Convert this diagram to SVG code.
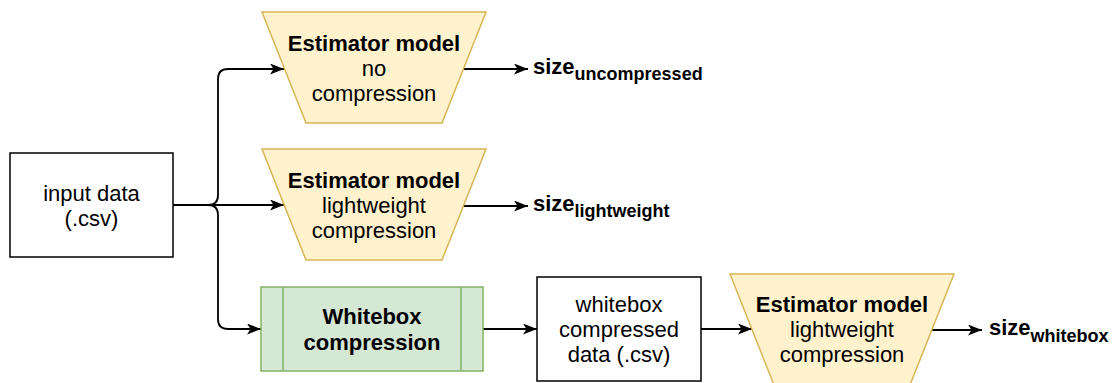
<svg xmlns="http://www.w3.org/2000/svg" width="1113" height="383" viewBox="0 0 1113 383">
<defs>
<marker id="arr" markerUnits="userSpaceOnUse" viewBox="0 0 14 11" refX="14" refY="5.5" markerWidth="14" markerHeight="11" orient="auto">
<path d="M0,0 L14,5.5 L0,11 L3.5,5.5 Z" fill="#000"/>
</marker>
<style>
text{font-family:"Liberation Sans",Arial,sans-serif;fill:#000}
.t{font-size:22px;text-anchor:middle}
.b{font-weight:bold}
.est{fill:#fff2cc;stroke:#d6b656;stroke-width:1.5}
.wb{fill:#d5e8d4;stroke:#82b366;stroke-width:1.5}
.box{fill:#fff;stroke:#000;stroke-width:1.5}
.c{fill:none;stroke:#000;stroke-width:1.8;marker-end:url(#arr)}
.sz{font-size:22px;font-weight:bold}
.sub{font-size:18px;font-weight:bold}
</style>
</defs>
<rect width="1113" height="383" fill="#fff"/>
<g id="connectors">
<path class="c" d="M173,205 L208,205 Q218,205 218,195 L218,79 Q218,69 228,69 L284,69"/>
<path class="c" d="M173,205 L284,205"/>
<path class="c" d="M173,205 L208,205 Q218,205 218,215 L218,319 Q218,329 228,329 L261,329"/>
<path class="c" d="M463,69 L528,69"/>
<path class="c" d="M463,206 L528,206"/>
<path class="c" d="M483,329 L537,329"/>
<path class="c" d="M701,329 L752,329"/>
<path class="c" d="M931,330 L982,330"/>
</g>
<g id="input">
<rect class="box" x="10" y="153" width="163" height="104"/>
<text class="t" x="91.5" y="200.5">input data</text>
<text class="t" x="91.5" y="225.5">(.csv)</text>
</g>
<g id="est1">
<polygon class="est" points="262,12 486,12 442,123 306,123"/>
<text class="t b" x="374" y="51">Estimator model</text>
<text class="t" x="374" y="76">no</text>
<text class="t" x="374" y="101">compression</text>
</g>
<g id="est2">
<polygon class="est" points="262,149 486,149 442,260 306,260"/>
<text class="t b" x="374" y="188">Estimator model</text>
<text class="t" x="374" y="213">lightweight</text>
<text class="t" x="374" y="238">compression</text>
</g>
<g id="whitebox">
<rect class="wb" x="261" y="287" width="222" height="84"/>
<line x1="283" y1="287" x2="283" y2="371" stroke="#82b366" stroke-width="1.5"/>
<line x1="461" y1="287" x2="461" y2="371" stroke="#82b366" stroke-width="1.5"/>
<text class="t b" x="372" y="324">Whitebox</text>
<text class="t b" x="372" y="350">compression</text>
</g>
<g id="wbdata">
<rect class="box" x="537" y="277" width="164" height="104"/>
<text class="t" x="619" y="312">whitebox</text>
<text class="t" x="619" y="337">compressed</text>
<text class="t" x="619" y="362">data (.csv)</text>
</g>
<g id="est3">
<polygon class="est" points="730,274 954,274 910,385 774,385"/>
<text class="t b" x="842" y="312">Estimator model</text>
<text class="t" x="842" y="337">lightweight</text>
<text class="t" x="842" y="362">compression</text>
</g>
<g id="size1">
<text x="533" y="73.5"><tspan class="sz">size</tspan><tspan class="sub" dy="6.5">uncompressed</tspan></text>
</g>
<g id="size2">
<text x="533" y="210.5"><tspan class="sz">size</tspan><tspan class="sub" dy="6.5">lightweight</tspan></text>
</g>
<g id="size3">
<text x="989" y="335"><tspan class="sz">size</tspan><tspan class="sub" dy="6.5">whitebox</tspan></text>
</g>
</svg>
